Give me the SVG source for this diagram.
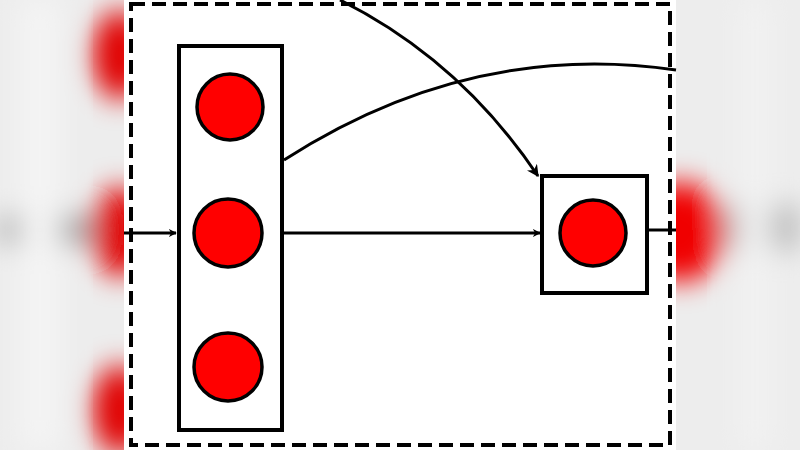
<svg xmlns="http://www.w3.org/2000/svg" width="800" height="450" viewBox="0 0 800 450">
<defs>
<filter id="b" x="-50%" y="-50%" width="200%" height="200%"><feGaussianBlur stdDeviation="14"/></filter>
<marker id="ah" viewBox="0 0 10 10" refX="9" refY="5" markerWidth="8" markerHeight="8" orient="auto" markerUnits="userSpaceOnUse"><path d="M0,0 L10,5 L0,10 L3,5 Z" fill="#000"/></marker>
<marker id="ah2" viewBox="0 0 10 10" refX="9" refY="5" markerWidth="12" markerHeight="12" orient="auto" markerUnits="userSpaceOnUse"><path d="M0,0 L10,5 L0,10 L3,5 Z" fill="#000"/></marker>
<style>
.box{fill:#fff;stroke:#000;stroke-width:4}
.n{fill:#f00;stroke:#000;stroke-width:3.5}
.c{fill:none;stroke:#000;stroke-width:3}
</style>
</defs>
<rect width="800" height="450" fill="#ededed"/>
<g filter="url(#b)">
<rect x="0" y="215" width="130" height="30" fill="#a8a8a8"/>
<rect x="670" y="205" width="130" height="45" fill="#bdbdbd"/>
<rect x="20" y="0" width="40" height="450" fill="#f4f4f4"/>
<rect x="740" y="0" width="30" height="450" fill="#f2f2f2"/>
<ellipse cx="120" cy="55" rx="28" ry="45" fill="#e00000"/>
<ellipse cx="120" cy="232" rx="28" ry="45" fill="#e00000"/>
<ellipse cx="120" cy="410" rx="28" ry="45" fill="#e00000"/>
<ellipse cx="680" cy="232" rx="45" ry="50" fill="#f00000"/>
</g>
<rect x="124" y="0" width="552" height="450" fill="#fff"/>
<rect x="131" y="4" width="539" height="441" fill="none" stroke="#000" stroke-width="4" stroke-dasharray="14,7"/>
<g id="connectors">
<line class="c" x1="124" y1="233" x2="176" y2="233" marker-end="url(#ah)"/>
<line class="c" x1="284" y1="233" x2="540" y2="233" marker-end="url(#ah)"/>
<path class="c" d="M340,0 Q460,60 538,176" stroke-width="4" marker-end="url(#ah2)"/>
<path class="c" d="M284,160 Q470,40 676,70" stroke-width="4"/>
<line class="c" x1="648" y1="230" x2="676" y2="230"/>
</g>
<g id="layer1">
<rect class="box" x="179" y="46" width="103" height="384"/>
<circle class="n" cx="230" cy="107" r="33"/>
<circle class="n" cx="228" cy="233" r="34"/>
<circle class="n" cx="228" cy="367" r="34"/>
</g>
<g id="output">
<rect class="box" x="542" y="176" width="105" height="117"/>
<circle class="n" cx="593" cy="233" r="33"/>
</g>
</svg>
